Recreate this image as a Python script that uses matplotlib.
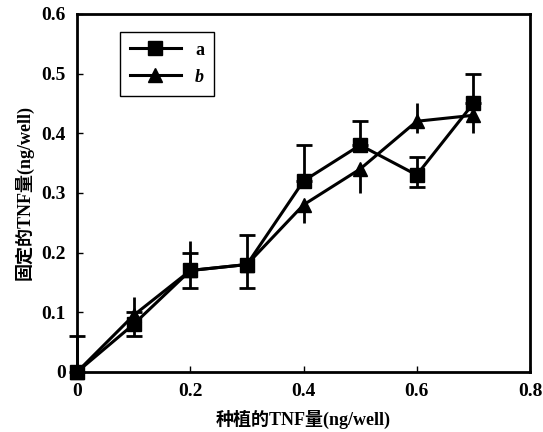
import numpy as np
import matplotlib
matplotlib.use('Agg')
import matplotlib.pyplot as plt

plt.rcParams['font.family'] = ['Liberation Serif', 'Noto Sans CJK SC']
plt.rcParams['font.weight'] = 'bold'

x = [0, 0.1, 0.2, 0.3, 0.4, 0.5, 0.6, 0.7]
a_vals = [0, 0.08, 0.17, 0.18, 0.32, 0.38, 0.33, 0.45]
a_err_low = [0, 0.02, 0.03, 0.04, 0, 0, 0.02, 0]
a_err_high = [0.06, 0.02, 0.03, 0.05, 0.06, 0.04, 0.03, 0.05]
b_vals = [0, 0.095, 0.17, 0.18, 0.28, 0.34, 0.42, 0.43]
b_err_low = [0, 0, 0, 0, 0.03, 0.04, 0.02, 0.03]
b_err_high = [0, 0.03, 0.05, 0, 0, 0, 0.03, 0]

fig = plt.figure(figsize=(5.43, 4.32), dpi=100)
ax = fig.add_axes([0.142, 0.139, 0.834, 0.829])

ax.errorbar(x, a_vals, yerr=[a_err_low, a_err_high], fmt='none', ecolor='black',
            elinewidth=2, capsize=6, capthick=2, clip_on=False)
ax.errorbar(x, b_vals, yerr=[b_err_low, b_err_high], fmt='none', ecolor='black',
            elinewidth=2, capsize=0, clip_on=False)
ax.plot(x, a_vals, color='black', marker='s', markersize=10, linewidth=2.2,
        label='a', clip_on=False, zorder=3)
ax.plot(x, b_vals, color='black', marker='^', markersize=10, linewidth=2.2,
        label='b', clip_on=False, zorder=3)

ax.set_xlim(0, 0.8)
ax.set_ylim(0, 0.6)
ax.set_xticks([0, 0.2, 0.4, 0.6, 0.8])
ax.set_xticklabels(['0', '0.2', '0.4', '0.6', '0.8'])
ax.set_yticks([0, 0.1, 0.2, 0.3, 0.4, 0.5, 0.6])
ax.set_yticklabels(['0', '0.1', '0.2', '0.3', '0.4', '0.5', '0.6'])
ax.tick_params(direction='in', length=4, width=1, labelsize=14, pad=8)
for s in ax.spines.values():
    s.set_linewidth(2)

ax.set_xlabel('种植的TNF量(ng/well)', fontsize=13, fontweight='bold', labelpad=7)
ax.set_ylabel('固定的TNF量(ng/well)', fontsize=13, fontweight='bold', labelpad=6)

leg = ax.legend(loc='upper left', bbox_to_anchor=(0.075, 0.975), fontsize=13,
                handlelength=2.8, fancybox=False, framealpha=1, edgecolor='black',
                borderpad=0.55, labelspacing=0.55)
leg.get_frame().set_linewidth(1)
leg.get_texts()[1].set_style('italic')

fig.savefig('out.png', dpi=100)
